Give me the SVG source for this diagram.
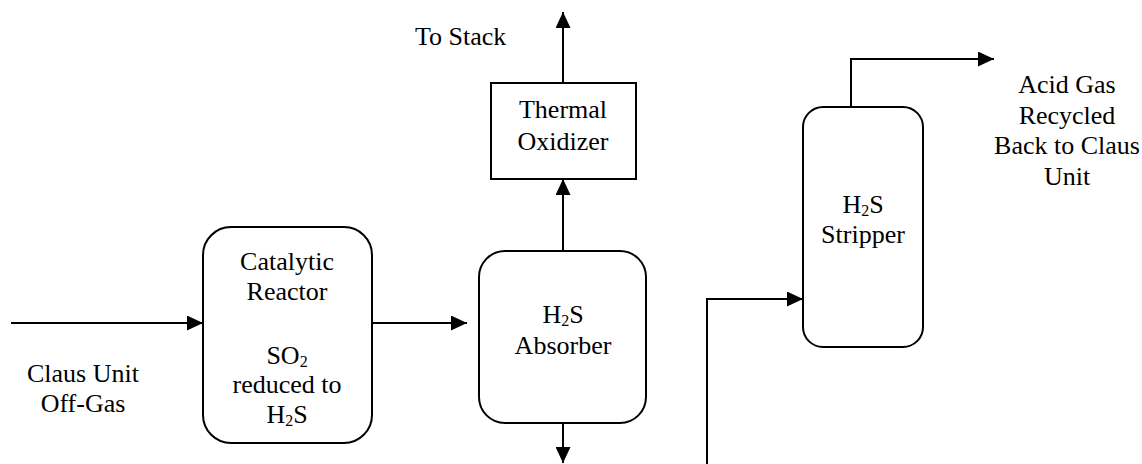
<svg xmlns="http://www.w3.org/2000/svg" width="1142" height="464" viewBox="0 0 1142 464">
<style>
.box{fill:#fff;stroke:#000;stroke-width:2}
.ln{fill:none;stroke:#000;stroke-width:2;marker-end:url(#ah)}
.t{fill:#000;font-family:"Liberation Serif","Times New Roman",serif;font-size:26px}
.c{text-anchor:middle}
.sub{font-size:16px}
</style>
<defs>
<marker id="ah" markerUnits="userSpaceOnUse" markerWidth="16" markerHeight="15" refX="16" refY="7.5" orient="auto">
<path d="M0,0 L16,7.5 L0,15 z" fill="#000"/>
</marker>
</defs>
<rect width="1142" height="464" fill="#fff"/>
<g id="connectors">
<line class="ln" x1="11" y1="323" x2="203" y2="323"/>
<line class="ln" x1="372" y1="323" x2="467" y2="323"/>
<line class="ln" x1="563" y1="251" x2="563" y2="179"/>
<line class="ln" x1="563" y1="83" x2="563" y2="12"/>
<line class="ln" x1="563" y1="423" x2="563" y2="463"/>
<polyline class="ln" points="851,107 851,59 994,59"/>
<polyline class="ln" points="707,464 707,299 803,299"/>
</g>
<g id="feed-label">
<text class="t c" x="83" y="382">Claus Unit</text>
<text class="t c" x="83" y="412">Off-Gas</text>
</g>
<g id="catalytic-reactor">
<rect class="box" x="203" y="227" width="169" height="216" rx="28"/>
<text class="t c" x="287" y="270">Catalytic</text>
<text class="t c" x="287" y="300">Reactor</text>
<text class="t c" x="287" y="364">SO<tspan class="sub" dy="3">2</tspan></text>
<text class="t c" x="287" y="393">reduced to</text>
<text class="t c" x="287" y="423">H<tspan class="sub" dy="3">2</tspan><tspan dy="-3">S</tspan></text>
</g>
<g id="h2s-absorber">
<rect class="box" x="479" y="251" width="167" height="172" rx="26"/>
<text class="t c" x="563" y="323">H<tspan class="sub" dy="3">2</tspan><tspan dy="-3">S</tspan></text>
<text class="t c" x="563" y="354">Absorber</text>
</g>
<g id="thermal-oxidizer">
<rect class="box" x="491" y="83" width="145" height="96"/>
<text class="t c" x="563" y="118">Thermal</text>
<text class="t c" x="563" y="150">Oxidizer</text>
</g>
<g id="stack-label">
<text class="t" x="415" y="45">To Stack</text>
</g>
<g id="h2s-stripper">
<rect class="box" x="803" y="107" width="120" height="240" rx="20"/>
<text class="t c" x="863" y="213">H<tspan class="sub" dy="3">2</tspan><tspan dy="-3">S</tspan></text>
<text class="t c" x="863" y="243">Stripper</text>
</g>
<g id="acid-gas-label">
<text class="t c" x="1067" y="93">Acid Gas</text>
<text class="t c" x="1067" y="124">Recycled</text>
<text class="t c" x="1067" y="154">Back to Claus</text>
<text class="t c" x="1067" y="185">Unit</text>
</g>
</svg>
